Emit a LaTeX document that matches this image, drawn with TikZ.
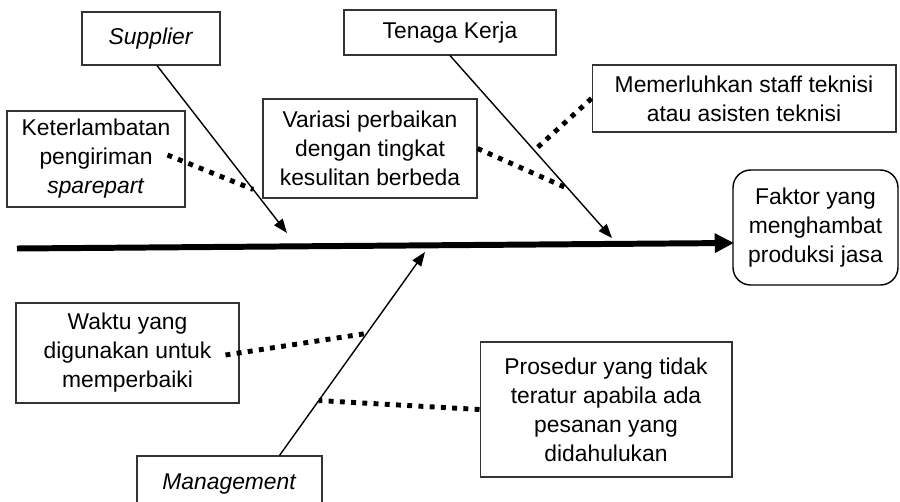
\documentclass[tikz,border=0pt]{standalone}
\usepackage{fontspec}
\setmainfont{Liberation Sans}
\usetikzlibrary{arrows.meta,calc}
\begin{document}
\begin{tikzpicture}[x=0.02cm,y=-0.02cm,
	box/.style={draw=black!80,line width=0.6pt,align=center,inner sep=2pt,
	font=\fontsize{13}{16.5}\selectfont},
	bone/.style={line width=0.8pt,-{Triangle[length=8pt,width=6pt]}},
	spine/.style={line width=3.4pt,-{Triangle[length=11pt,width=10.5pt]},shorten >=-1pt},
	sub/.style={line width=2.8pt,dash pattern=on 2.8pt off 3.6pt}]
\useasboundingbox (0,0) rectangle (900,501);
\node[box,minimum width=2.76cm,minimum height=1.06cm] (supplier) at (151,38.5) {\textit{Supplier}};
\node[box,minimum width=4.24cm,minimum height=0.9cm] (tenaga) at (450,32.5) {Tenaga Kerja};
\node[box,minimum width=3.56cm,minimum height=1.92cm] (telat) at (96,159) {Keterlambatan\\pengiriman\\\textit{sparepart}};
\node[box,minimum width=4.28cm,minimum height=1.98cm] (variasi) at (370,148.5) {Variasi perbaikan\\dengan tingkat\\kesulitan berbeda};
\node[box,minimum width=6.08cm,minimum height=1.34cm] (staff) at (744,98.5) {Memerluhkan staff teknisi\\atau asisten teknisi};
\node[box,rounded corners=10pt,line width=0.8pt,draw=black,minimum width=3.3cm,minimum height=2.3cm] (faktor) at (815.5,227.5) {Faktor yang\\menghambat\\produksi jasa};
\node[box,minimum width=4.46cm,minimum height=2cm] (waktu) at (127.5,353) {Waktu yang\\digunakan untuk\\memperbaiki};
\node[box,minimum width=5.04cm,minimum height=2.7cm] (prosedur) at (606,409.5) {Prosedur yang tidak\\teratur apabila ada\\pesanan yang\\didahulukan};
\node[box,minimum width=3.7cm,minimum height=1.12cm] (mgmt) at (229.5,484) {\textit{Management}};
\coordinate (tail) at (17,248.5);
\coordinate (supTip) at (287,233);
\coordinate (tenTip) at (612,238);
\coordinate (manTip) at (425,252);
\draw[spine] (tail) -- ([yshift=-0.31cm]faktor.west);
\draw[bone] ([xshift=0.12cm]supplier.south) -- (supTip);
\draw[bone] (tenaga.south) -- (tenTip);
\draw[bone] ([xshift=1cm]mgmt.north) -- (manTip);
\draw[sub] ([xshift=-0.36cm,yshift=0.08cm]telat.east) -- ($([xshift=0.12cm]supplier.south)!0.74!(supTip)$);
\draw[sub] (variasi.east) -- ($(tenaga.south)!0.73!(tenTip)$);
\draw[sub] (staff.west) -- ($(tenaga.south)!0.52!(tenTip)$);
\draw[sub] ([xshift=-0.28cm,yshift=-0.04cm]waktu.east) -- ($([xshift=1cm]mgmt.north)!0.6!(manTip)$);
\draw[sub] (prosedur.west) -- ($([xshift=1cm]mgmt.north)!0.27!(manTip)$);
\end{tikzpicture}
\end{document}
